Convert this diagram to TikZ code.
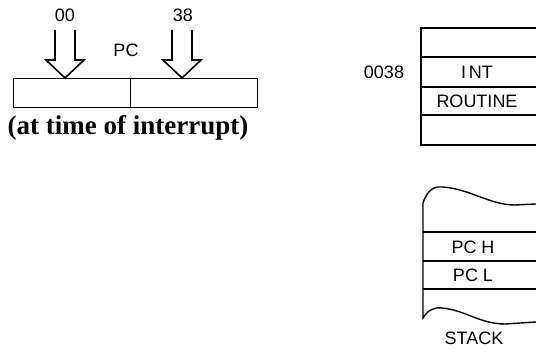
\documentclass[tikz,border=0pt]{standalone}
\usepackage{fontspec}
\setmainfont{Liberation Serif}
\setsansfont{Liberation Sans}
\usetikzlibrary{positioning}
\tikzset{
  lbl/.style={font=\sffamily\fontsize{18}{21}\selectfont, inner sep=0pt},
  note/.style={font=\bfseries\fontsize{27}{31}\selectfont, inner sep=0pt},
  half/.style={draw, line width=1.4pt, minimum height=29pt, inner sep=0pt},
  edge/.style={line width=1.4pt},
  hollow/.style={line width=1.6pt, line join=miter},
  downarrow/.pic={
    \draw[hollow] (-10,-48) -- (-10,-18) -- (-19,-18) -- (0,0) -- (19,-18) -- (10,-18) -- (10,-48);
  }
}

\begin{document}
\begin{tikzpicture}[x=1pt,y=-1pt]
  \useasboundingbox (0,0) rectangle (536,355);

  % program counter
  \node[half, minimum width=117pt, anchor=north west] (pclo) at (13,78) {};
  \node[half, minimum width=127pt, right=-1.4pt of pclo] (pchi) {};
  \pic at (65,0 |- pclo.north) {downarrow};
  \pic at (182,0 |- pchi.north) {downarrow};
  \node[lbl] (lo) at (65,15) {00};
  \node[lbl] (hi) at (183,15) {38};
  \node[lbl] (pc) at (126,50) {PC};
  \node[note] (when) at (128,128) {(at time of interrupt)};

  % memory (open to the right)
  \draw[edge] (536,28) -| (421,145) -- (536,145);
  \foreach \y in {57,87,115} \draw[edge] (421,\y) -- (536,\y);
  \node[lbl] (addr) at (384,72) {0038};
  \node[lbl] (int) at (477,72) {I\,NT};
  \node[lbl] (rtn) at (477,101) {ROUTINE};

  % stack
  \draw[edge] (536,204) -- (515,205) .. controls (490,205) and (470,189) .. (443,187)
    .. controls (436,186) and (428,188) .. (423,203) -- (423,318)
    .. controls (428,310) and (434,307) .. (442,308)
    .. controls (465,310) and (480,324) .. (505,324) -- (536,322);
  \foreach \y in {232,261,289} \draw[edge] (423,\y) -- (536,\y);
  \node[lbl] (pch) at (473,247) {PC H};
  \node[lbl] (pcl) at (473,275) {PC L};
  \node[lbl] (stk) at (474,338) {STACK};
\end{tikzpicture}
\end{document}
